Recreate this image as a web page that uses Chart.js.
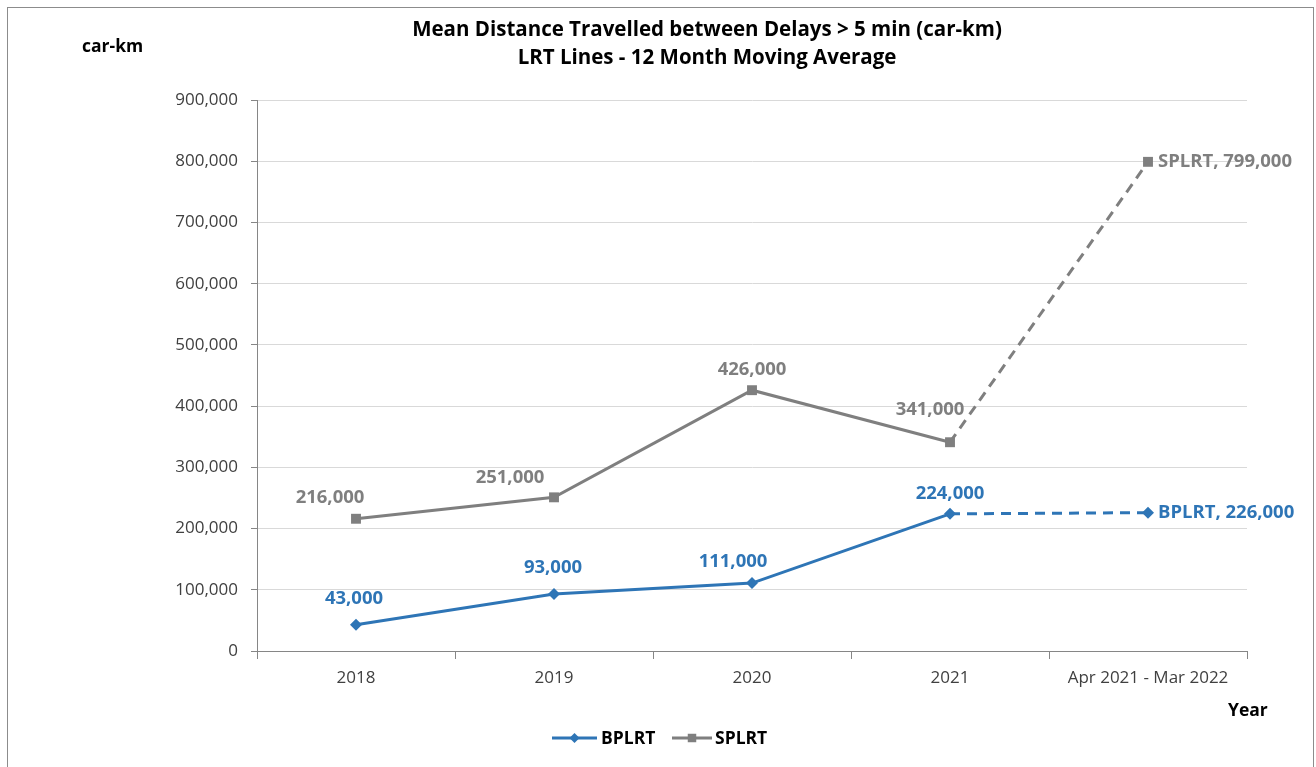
<!DOCTYPE html>
<html>
<head>
<meta charset="utf-8">
<script src="https://cdn.jsdelivr.net/npm/chart.js@4/dist/chart.umd.min.js"></script>
<style>
  html, body { margin: 0; padding: 0; background: #fff; }
  #wrap { position: relative; width: 1316px; height: 767px; }
</style>
</head>
<body>
<div id="wrap"><canvas id="chart" width="1316" height="767"></canvas></div>
<script>
'use strict';

// ── Data ─────────────────────────────────────────────
const categories  = ['2018', '2019', '2020', '2021', 'Apr 2021 - Mar 2022'];
const bplrtValues = [43000, 93000, 111000, 224000, 226000];
const splrtValues = [216000, 251000, 426000, 341000, 799000];
const seriesNames = ['BPLRT', 'SPLRT'];
const titleLines  = ['Mean Distance Travelled between Delays > 5 min (car-km)',
                     'LRT Lines - 12 Month Moving Average'];
const yAxisTitle  = 'car-km';
const xAxisTitle  = 'Year';

const BLUE = '#2E75B6';
const GREY = '#7F7F7F';
const AXIS = '#868686';
const FONT = "'Open Sans', 'Noto Sans', sans-serif";

const fmtNum = v => v.toLocaleString('en-US');

// label placement relative to each point (last point: label to the right)
const labelShift = {
  0: [[-2, -26], [-1, -26], [-19, -21], [0, -20], null],
  1: [[-26, -21], [-44, -20], [0, -20], [-20, -32], null]
};

// ── Plugins ──────────────────────────────────────────
const frame = {
  id: 'frame',
  beforeDraw(chart) {
    const c = chart.ctx;
    c.save();
    c.strokeStyle = '#8c8c8c';
    c.lineWidth = 1;
    c.strokeRect(7.5, 7.5, 1306, 780);
    c.restore();
  }
};

const texts = {
  id: 'texts',
  afterDraw(chart) {
    const c = chart.ctx;
    c.save();
    c.fillStyle = '#000';
    c.textAlign = 'center';
    c.textBaseline = 'middle';
    c.font = `bold 20.5px ${FONT}`;
    c.fillText(titleLines[0], 707, 30);
    c.fillText(titleLines[1], 707, 58);

    c.font = `bold 17.5px ${FONT}`;
    c.textAlign = 'left';
    c.fillText(yAxisTitle, 82, 47);
    c.fillText(xAxisTitle, 1228, 711);

    // legend
    const items = [
      { x0: 552, x1: 597, tx: 601, color: BLUE, style: 'rectRot', r: 5 },
      { x0: 672, x1: 712, tx: 715, color: GREY, style: 'rect', r: 6 }
    ];
    items.forEach((it, i) => {
      const y = 738;
      c.strokeStyle = it.color;
      c.lineWidth = 3;
      c.beginPath();
      c.moveTo(it.x0, y);
      c.lineTo(it.x1, y);
      c.stroke();
      c.fillStyle = it.color;
      Chart.helpers.drawPoint(c, { pointStyle: it.style, radius: it.r, borderWidth: 0 },
        (it.x0 + it.x1) / 2, y);
      c.fillStyle = '#000';
      c.font = `bold 17.5px ${FONT}`;
      c.textAlign = 'left';
      c.fillText(seriesNames[i], it.tx, y + 1);
    });
    c.restore();
  }
};

const pointLabels = {
  id: 'pointLabels',
  afterDatasetsDraw(chart) {
    const c = chart.ctx;
    c.save();
    c.font = `bold 18.5px ${FONT}`;
    c.textBaseline = 'middle';
    chart.data.datasets.forEach((ds, di) => {
      const meta = chart.getDatasetMeta(di);
      meta.data.forEach((pt, i) => {
        const shift = labelShift[di][i];
        c.fillStyle = ds.borderColor;
        if (shift) {
          c.textAlign = 'center';
          c.fillText(fmtNum(ds.data[i]), pt.x + shift[0], pt.y + shift[1]);
        } else {
          c.textAlign = 'left';
          c.fillText(`${ds.label}, ${fmtNum(ds.data[i])}`, pt.x + 10, pt.y);
        }
      });
    });
    c.restore();
  }
};

// ── Chart ────────────────────────────────────────────
const dashLast = ctx => ctx.p0DataIndex === categories.length - 2 ? [10, 7] : undefined;

new Chart(document.getElementById('chart').getContext('2d'), {
  type: 'line',
  data: {
    labels: categories,
    datasets: [
      {
        label: seriesNames[0],
        data: bplrtValues,
        borderColor: BLUE,
        backgroundColor: BLUE,
        borderWidth: 3,
        pointStyle: 'rectRot',
        pointRadius: 6,
        pointBorderWidth: 0,
        tension: 0,
        segment: { borderDash: dashLast }
      },
      {
        label: seriesNames[1],
        data: splrtValues,
        borderColor: GREY,
        backgroundColor: GREY,
        borderWidth: 3,
        pointStyle: 'rect',
        pointRadius: 7,
        pointBorderWidth: 0,
        tension: 0,
        segment: { borderDash: dashLast }
      }
    ]
  },
  options: {
    responsive: false,
    animation: false,
    devicePixelRatio: 1,
    layout: { padding: { top: 100, right: 69, bottom: 0, left: 0 } },
    plugins: {
      legend: { display: false },
      title: { display: false },
      tooltip: { enabled: false }
    },
    scales: {
      x: {
        offset: true,
        afterFit: s => { s.height = 116; },
        border: { color: AXIS, width: 1 },
        grid: {
          offset: true,
          drawOnChartArea: false,
          tickLength: 8,
          color: AXIS
        },
        ticks: {
          color: '#404040',
          font: { size: 17, family: FONT },
          padding: 9,
          maxRotation: 0,
          autoSkip: false
        }
      },
      y: {
        min: 0,
        max: 900000,
        afterFit: s => { s.width = 257; },
        border: { color: AXIS, width: 1 },
        grid: {
          color: ctx => ctx.tick && ctx.tick.value === 0 ? AXIS : '#D9D9D9',
          tickColor: AXIS,
          tickLength: 6
        },
        ticks: {
          stepSize: 100000,
          color: '#404040',
          font: { size: 17, family: FONT },
          padding: 13,
          callback: v => fmtNum(v)
        }
      }
    }
  },
  plugins: [frame, pointLabels, texts]
});
</script>
</body>
</html>
